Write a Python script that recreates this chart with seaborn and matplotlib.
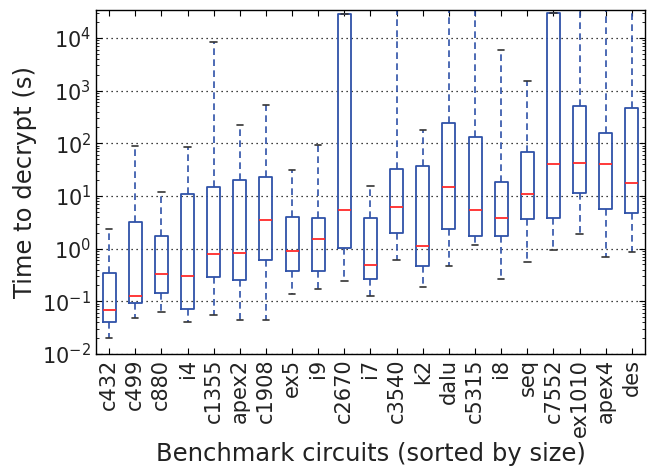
import numpy as np
import pandas as pd
import matplotlib
matplotlib.use('Agg')
import matplotlib.pyplot as plt
import seaborn as sns

circuits = ['c432', 'c499', 'c880', 'i4', 'c1355', 'apex2', 'c1908', 'ex5', 'i9', 'c2670', 'i7',
            'c3540', 'k2', 'dalu', 'c5315', 'i8', 'seq', 'c7552', 'ex1010', 'apex4', 'des']

# box statistics (seconds)
whis_lo = [0.020, 0.048, 0.064, 0.040, 0.056, 0.044, 0.044, 0.14, 0.17, 0.247, 0.128,
           0.62, 0.19, 0.46, 1.16, 0.27, 0.55, 0.94, 1.92, 0.70, 0.85]
q1 = [0.040, 0.091, 0.142, 0.072, 0.286, 0.255, 0.61, 0.37, 0.38, 1.01, 0.266,
      1.98, 0.47, 2.36, 1.76, 1.76, 3.7, 3.8, 11.5, 5.6, 4.75]
median = [0.068, 0.128, 0.33, 0.30, 0.80, 0.83, 3.44, 0.90, 1.55, 5.4, 0.48,
          6.25, 1.14, 15.0, 5.3, 3.76, 11.0, 40.0, 43.0, 40.0, 18.0]
q3 = [0.34, 3.2, 1.71, 10.9, 14.8, 19.7, 22.9, 3.9, 3.76, 28000, 3.76,
      32.5, 36.9, 240, 133, 18.6, 69, 30000, 520, 156, 475]
whis_hi = [2.4, 87, 12, 86, 8300, 221, 537, 31.4, 91, 28000, 15.6,
           1e5, 175, 1e5, 1e5, 6000, 1550, 30000, 1e5, 1e5, 1e5]

rows = []
for i, c in enumerate(circuits):
    for v in [whis_lo[i], q1[i], median[i], q3[i], whis_hi[i]]:
        rows.append({'circuit': c, 'time': v})
df = pd.DataFrame(rows)

sns.set_style('white')
plt.rcParams['font.family'] = ['DejaVu Sans']

fig = plt.figure(figsize=(6.59, 4.72), dpi=100)
ax = fig.add_axes([0.1457, 0.25, 0.833, 0.729])

blue = '#2f52a8'
sns.boxplot(data=df, x='circuit', y='time', order=circuits, whis=(0, 100), width=0.5,
            log_scale=True, fill=False, ax=ax, showfliers=False,
            boxprops=dict(color=blue, linewidth=1.3),
            medianprops=dict(color='#ff2a2a', linewidth=1.3),
            whiskerprops=dict(color=blue, linewidth=1.2, linestyle=(0, (4, 2.6))),
            capprops=dict(color='#333333', linewidth=1.2),
            capwidths=0.25)

ax.set_yscale('log')
ax.set_ylim(1e-2, 3.4e4)
ax.set_xlim(-0.5, len(circuits) - 0.5)
ax.yaxis.grid(True, which='major', color='black', linestyle=(0, (1, 3)), linewidth=0.9)
ax.xaxis.grid(False)
ax.set_axisbelow(True)

for s in ax.spines.values():
    s.set_visible(True)
    s.set_color('black')
    s.set_linewidth(1.0)

ax.tick_params(axis='both', which='both', direction='in', top=True, right=True,
               bottom=True, left=True, colors='black')
ax.tick_params(axis='both', which='major', length=4, labelsize=15, labelcolor='#222222')
ax.tick_params(axis='y', which='minor', length=2)
ax.set_xticks(range(len(circuits)))
ax.set_xticklabels(circuits, rotation=90)
ax.set_yticks([1e-2, 1e-1, 1e0, 1e1, 1e2, 1e3, 1e4])

ax.set_xlabel('Benchmark circuits (sorted by size)', fontsize=17.5, color='#222222')
ax.set_ylabel('Time to decrypt (s)', fontsize=17.5, color='#222222')

fig.savefig('out.png', dpi=100)
